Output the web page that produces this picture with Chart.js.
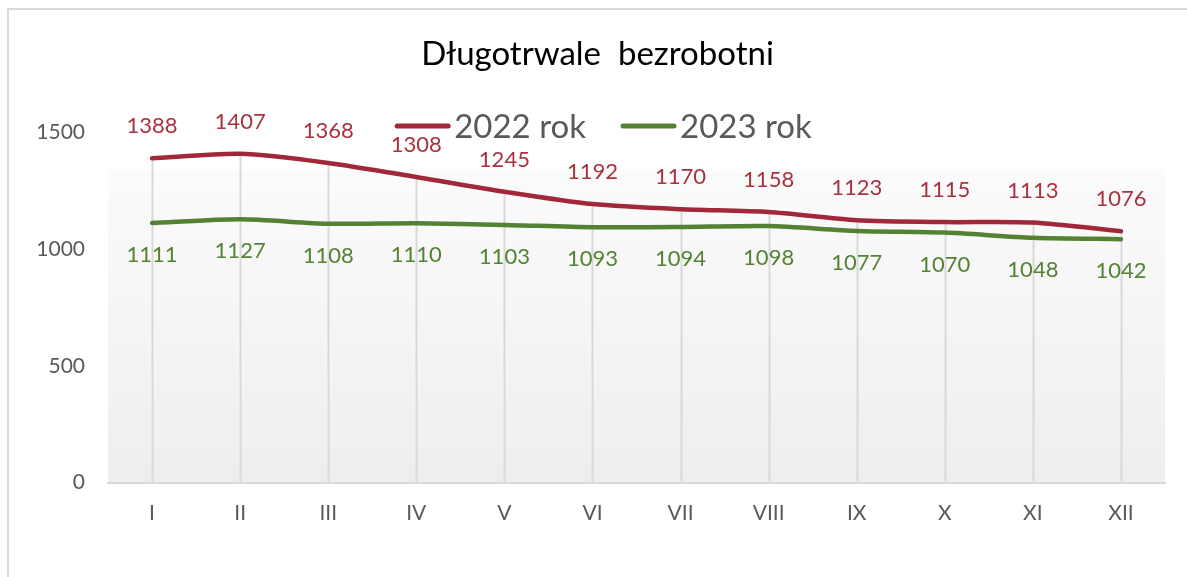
<!DOCTYPE html>
<html>
<head>
<meta charset="utf-8">
<script src="https://cdn.jsdelivr.net/npm/chart.js@4"></script>
<style>
  html, body { margin: 0; padding: 0; background: #ffffff; }
  #wrap { width: 1187px; height: 577px; position: relative; }
</style>
</head>
<body>
<div id="wrap"><canvas id="c"></canvas></div>
<script>
const categories = ['I', 'II', 'III', 'IV', 'V', 'VI', 'VII', 'VIII', 'IX', 'X', 'XI', 'XII'];
const values2022 = [1388, 1407, 1368, 1308, 1245, 1192, 1170, 1158, 1123, 1115, 1113, 1076];
const values2023 = [1111, 1127, 1108, 1110, 1103, 1093, 1094, 1098, 1077, 1070, 1048, 1042];
const seriesNames = ['2022 rok', '2023 rok'];
const seriesColors = ['#A0283A', '#548235'];
const yMin = 0;
const yMax = 1500;
const yStep = 500;
const titleText = 'Długotrwale  bezrobotni';

const FONT = 'Lato';

const backgroundPlugin = {
  id: 'bgPlot',
  beforeDraw(chart) {
    const { ctx, chartArea: a } = chart;
    ctx.save();
    ctx.fillStyle = '#ffffff';
    ctx.fillRect(0, 0, chart.width, chart.height);
    const top = a.top + (a.bottom - a.top) * 0.107;
    const g = ctx.createLinearGradient(0, top, 0, a.bottom);
    g.addColorStop(0, '#fbfbfb');
    g.addColorStop(1, '#eeeeee');
    ctx.fillStyle = g;
    ctx.fillRect(a.left, top, a.right - a.left, a.bottom - top);
    ctx.strokeStyle = '#d9d9d9';
    ctx.lineWidth = 2;
    ctx.beginPath();
    ctx.moveTo(8, chart.height + 5);
    ctx.lineTo(8, 9);
    ctx.lineTo(chart.width + 5, 9);
    ctx.stroke();
    ctx.restore();
  }
};

const dropLinesPlugin = {
  id: 'dropLines',
  beforeDatasetsDraw(chart) {
    const { ctx, chartArea: a } = chart;
    const metas = chart.data.datasets.map((d, i) => chart.getDatasetMeta(i));
    ctx.save();
    ctx.strokeStyle = '#d9d9d9';
    ctx.lineWidth = 2;
    for (let i = 0; i < categories.length; i++) {
      let top = Infinity, x = null;
      metas.forEach(m => {
        const p = m.data[i];
        if (p) { top = Math.min(top, p.y); x = p.x; }
      });
      if (x === null) continue;
      ctx.beginPath();
      ctx.moveTo(Math.round(x) + 0.5, top);
      ctx.lineTo(Math.round(x) + 0.5, a.bottom);
      ctx.stroke();
    }
    ctx.restore();
  }
};

const dataLabelsPlugin = {
  id: 'dataLabels',
  afterDatasetsDraw(chart) {
    const { ctx } = chart;
    ctx.save();
    ctx.font = '22px ' + FONT;
    ctx.textAlign = 'center';
    ctx.textBaseline = 'middle';
    chart.data.datasets.forEach((ds, di) => {
      const meta = chart.getDatasetMeta(di);
      ctx.fillStyle = ds.labelColor;
      meta.data.forEach((p, i) => {
        const off = di === 0 ? -32 : 32;
        ctx.fillText(String(ds.data[i]), p.x, p.y + off);
      });
    });
    ctx.restore();
  }
};

const legendPlugin = {
  id: 'customLegend',
  afterDraw(chart) {
    const { ctx } = chart;
    ctx.save();
    ctx.font = '33px ' + FONT;
    ctx.textBaseline = 'middle';
    ctx.textAlign = 'left';
    const lineLen = 55, gap = 4, itemGap = 35;
    const widths = seriesNames.map(n => ctx.measureText(n).width);
    const total = widths.reduce((s, w) => s + lineLen + gap + w, 0) + itemGap * (seriesNames.length - 1);
    let x = 603.5 - total / 2;
    const y = 126;
    seriesNames.forEach((n, i) => {
      ctx.strokeStyle = seriesColors[i];
      ctx.lineWidth = 5;
      ctx.lineCap = 'round';
      ctx.beginPath();
      ctx.moveTo(x + 2, y);
      ctx.lineTo(x + lineLen - 2, y);
      ctx.stroke();
      ctx.fillStyle = '#595959';
      ctx.fillText(n, x + lineLen + gap, y + 1);
      x += lineLen + gap + widths[i] + itemGap;
    });
    ctx.restore();
  }
};

const ctx = document.getElementById('c').getContext('2d');
new Chart(ctx, {
  type: 'line',
  data: {
    labels: categories,
    datasets: [
      {
        label: seriesNames[0],
        data: values2022,
        borderColor: seriesColors[0],
        labelColor: '#A8323F',
        borderWidth: 4.5,
        pointRadius: 0,
        tension: 0.25,
        fill: false,
        borderCapStyle: 'round'
      },
      {
        label: seriesNames[1],
        data: values2023,
        borderColor: seriesColors[1],
        labelColor: '#548235',
        borderWidth: 4.5,
        pointRadius: 0,
        tension: 0.25,
        fill: false,
        borderCapStyle: 'round'
      }
    ]
  },
  options: {
    responsive: true,
    maintainAspectRatio: false,
    animation: false,
    devicePixelRatio: 1,
    events: [],
    layout: { padding: { left: 30, right: 22, top: 0, bottom: 0 } },
    plugins: {
      legend: { display: false },
      tooltip: { enabled: false },
      title: {
        display: true,
        text: titleText,
        color: '#000000',
        font: { family: FONT, size: 33, weight: 'normal' },
        padding: { top: 35, bottom: 57.5 }
      }
    },
    scales: {
      x: {
        offset: true,
        grid: { display: false, drawTicks: false },
        border: { display: true, color: '#d9d9d9', width: 2 },
        ticks: { color: '#595959', font: { family: FONT, size: 21 }, padding: 18 },
        afterFit(scale) { scale.height = 94.3; }
      },
      y: {
        min: yMin,
        max: yMax,
        ticks: {
          stepSize: yStep, color: '#595959', font: { family: FONT, size: 21 }, padding: 23,
          callback: (v) => String(v)
        },
        grid: { display: false, drawTicks: false },
        border: { display: false },
        afterFit(scale) { scale.width = 78; }
      }
    }
  },
  plugins: [backgroundPlugin, dropLinesPlugin, dataLabelsPlugin, legendPlugin]
});
</script>
</body>
</html>
